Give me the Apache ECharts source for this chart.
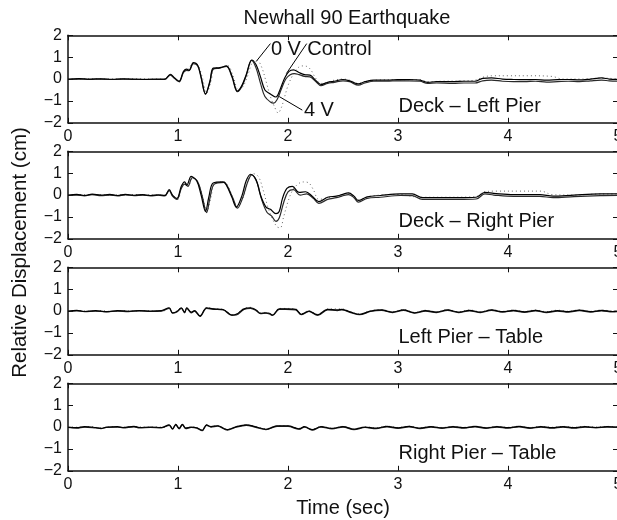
<!DOCTYPE html>
<html>
<head>
<meta charset="utf-8">
<script src="https://cdn.jsdelivr.net/npm/echarts@6/dist/echarts.min.js"></script>
<style>
html, body { margin: 0; padding: 0; background: #fff; }
#chart { width: 617px; height: 520px; }
</style>
</head>
<body>
<div id="chart"></div>
<script>
// readings from the figure: [time (s), displacement (cm)]
const deckLeft0V = [[0,0],[0.1,0.02],[0.2,0],[0.3,0.01],[0.4,-0.01],[0.5,0.01],[0.6,0],[0.7,-0.02],[0.8,0],[0.88,0],[0.93,0.22],[0.97,0.05],[1.01,-0.1],[1.05,0.35],[1.08,0.45],[1.1,0.4],[1.14,0.75],[1.18,0.62],[1.21,0.1],[1.25,-0.68],[1.29,-0.1],[1.32,0.5],[1.38,0.52],[1.44,0.6],[1.49,0.15],[1.54,-0.55],[1.58,-0.3],[1.62,0.2],[1.67,0.87],[1.71,0.65],[1.75,0.1],[1.79,-0.5],[1.84,-0.68],[1.89,-0.82],[1.93,-0.45],[1.97,0.05],[2.01,0.35],[2.05,0.42],[2.1,0.3],[2.15,0.2],[2.2,0.18],[2.25,-0.05],[2.3,-0.25],[2.36,-0.15],[2.42,-0.1],[2.5,-0.02],[2.56,-0.08],[2.64,-0.22],[2.7,-0.12],[2.78,-0.05],[2.9,-0.05],[3,-0.03],[3.1,-0.02],[3.2,-0.05],[3.27,-0.15],[3.35,-0.12],[3.5,-0.12],[3.6,-0.1],[3.7,-0.1],[3.77,0.03],[3.85,0.05],[3.95,0],[4.05,-0.02],[4.15,-0.03],[4.25,-0.02],[4.35,-0.05],[4.45,-0.03],[4.55,-0.02],[4.65,-0.04],[4.75,0],[4.85,0.05],[4.92,0],[5,-0.02]];
const deckLeft4V = [[0,-0.02],[0.1,0],[0.2,-0.02],[0.3,0],[0.4,-0.02],[0.5,0],[0.6,-0.02],[0.7,-0.01],[0.8,-0.02],[0.88,-0.02],[0.93,0.18],[0.97,0.02],[1.01,-0.12],[1.05,0.3],[1.08,0.4],[1.1,0.38],[1.14,0.7],[1.18,0.6],[1.21,0.05],[1.25,-0.7],[1.29,-0.15],[1.32,0.45],[1.38,0.5],[1.44,0.58],[1.49,0.1],[1.54,-0.58],[1.58,-0.35],[1.62,0.15],[1.67,0.85],[1.71,0.5],[1.75,-0.2],[1.79,-0.8],[1.84,-1.05],[1.87,-1.1],[1.9,-0.95],[1.94,-0.45],[1.98,0],[2.02,0.2],[2.06,0.25],[2.1,0.2],[2.15,0.12],[2.2,0.1],[2.25,-0.1],[2.3,-0.3],[2.36,-0.2],[2.42,-0.15],[2.5,-0.08],[2.56,-0.12],[2.64,-0.28],[2.7,-0.18],[2.78,-0.1],[2.9,-0.1],[3,-0.08],[3.1,-0.08],[3.2,-0.1],[3.27,-0.2],[3.35,-0.18],[3.5,-0.2],[3.6,-0.18],[3.7,-0.18],[3.77,-0.08],[3.85,-0.05],[3.95,-0.1],[4.05,-0.12],[4.15,-0.12],[4.25,-0.1],[4.35,-0.14],[4.45,-0.12],[4.55,-0.1],[4.65,-0.12],[4.75,-0.08],[4.85,-0.05],[4.92,-0.08],[5,-0.1]];
const deckLeftCtrl = [[0,0],[0.2,0.01],[0.4,0],[0.6,0.01],[0.8,0],[0.88,0],[0.93,0.2],[0.97,0],[1.01,-0.15],[1.05,0.3],[1.09,0.45],[1.14,0.72],[1.18,0.65],[1.22,0.1],[1.26,-0.65],[1.3,-0.1],[1.33,0.5],[1.39,0.52],[1.45,0.62],[1.5,0.15],[1.55,-0.5],[1.59,-0.35],[1.63,0.1],[1.68,0.8],[1.72,0.85],[1.76,0.55],[1.8,-0.1],[1.84,-0.8],[1.88,-1.3],[1.91,-1.55],[1.94,-1.3],[1.97,-0.8],[2,-0.3],[2.04,0.15],[2.08,0.45],[2.12,0.6],[2.17,0.58],[2.21,0.4],[2.25,0.05],[2.3,-0.2],[2.36,-0.15],[2.42,-0.05],[2.5,0],[2.56,-0.05],[2.64,-0.2],[2.7,-0.12],[2.8,-0.05],[3,-0.03],[3.2,-0.03],[3.27,-0.12],[3.4,-0.1],[3.6,-0.08],[3.7,-0.05],[3.77,0.08],[3.85,0.15],[4,0.15],[4.2,0.15],[4.4,0.12],[4.5,0],[4.7,0],[4.85,0.05],[5,0]];

const deckRight0V = [[0,0],[0.08,0.03],[0.15,-0.02],[0.22,0.04],[0.3,0],[0.38,0.03],[0.45,-0.02],[0.52,0.03],[0.6,-0.01],[0.68,0.02],[0.75,-0.02],[0.82,0.01],[0.88,-0.02],[0.92,0.25],[0.95,0],[0.99,-0.15],[1.03,0.4],[1.06,0.6],[1.08,0.45],[1.12,0.85],[1.17,0.65],[1.21,0],[1.25,-0.75],[1.28,-0.1],[1.32,0.55],[1.41,0.6],[1.44,0.45],[1.49,-0.1],[1.53,-0.55],[1.58,-0.05],[1.62,0.65],[1.66,0.95],[1.71,0.7],[1.75,0],[1.8,-0.55],[1.84,-0.65],[1.89,-0.85],[1.92,-0.75],[1.95,-0.15],[1.99,0.3],[2.04,0.4],[2.1,0.12],[2.16,0.15],[2.22,-0.05],[2.28,-0.3],[2.36,-0.1],[2.44,-0.05],[2.49,0.02],[2.55,0.1],[2.6,-0.05],[2.64,-0.25],[2.72,-0.08],[2.84,-0.02],[3.02,0.05],[3.13,0.05],[3.22,-0.12],[3.38,-0.12],[3.55,-0.12],[3.71,-0.1],[3.79,0.12],[3.87,0.08],[4.05,0.02],[4.29,0.02],[4.41,-0.05],[4.6,0],[4.84,0.05],[5,0.05]];
const deckRight4V = [[0,-0.02],[0.08,0],[0.15,-0.04],[0.22,0.02],[0.3,-0.03],[0.38,0],[0.45,-0.04],[0.52,0.01],[0.6,-0.03],[0.68,0],[0.75,-0.04],[0.82,-0.01],[0.88,-0.04],[0.92,0.2],[0.95,-0.05],[0.99,-0.2],[1.03,0.3],[1.06,0.5],[1.09,0.4],[1.13,0.8],[1.18,0.6],[1.22,-0.05],[1.26,-0.8],[1.29,-0.15],[1.33,0.5],[1.42,0.58],[1.45,0.4],[1.5,-0.15],[1.54,-0.6],[1.59,-0.1],[1.63,0.55],[1.67,0.92],[1.72,0.55],[1.76,-0.2],[1.81,-0.8],[1.85,-0.95],[1.89,-1.2],[1.92,-1.05],[1.96,-0.35],[2,0.15],[2.05,0.25],[2.11,0],[2.17,0.05],[2.23,-0.15],[2.28,-0.38],[2.36,-0.2],[2.44,-0.12],[2.49,-0.05],[2.55,0.02],[2.6,-0.12],[2.64,-0.32],[2.72,-0.15],[2.84,-0.1],[3.02,-0.02],[3.13,-0.03],[3.22,-0.2],[3.38,-0.2],[3.55,-0.2],[3.71,-0.18],[3.79,0.05],[3.87,0],[4.05,-0.06],[4.29,-0.06],[4.41,-0.12],[4.6,-0.07],[4.84,-0.03],[5,-0.02]];
const deckRightCtrl = [[0,0],[0.2,0.02],[0.4,0],[0.6,0.02],[0.8,0],[0.88,0],[0.92,0.22],[0.96,-0.05],[1,-0.2],[1.03,0.35],[1.06,0.55],[1.1,0.5],[1.13,0.8],[1.18,0.6],[1.22,0],[1.26,-0.75],[1.3,-0.1],[1.33,0.5],[1.42,0.6],[1.46,0.35],[1.5,-0.15],[1.54,-0.55],[1.6,0],[1.64,0.7],[1.68,0.98],[1.73,0.85],[1.77,0.3],[1.82,-0.6],[1.86,-1.1],[1.9,-1.45],[1.93,-1.5],[1.96,-1],[2,-0.3],[2.04,0.2],[2.09,0.5],[2.14,0.6],[2.19,0.55],[2.23,0.25],[2.28,-0.2],[2.34,-0.15],[2.44,-0.05],[2.55,0.08],[2.64,-0.22],[2.75,-0.05],[3,0.03],[3.2,-0.1],[3.4,-0.1],[3.7,-0.08],[3.79,0.15],[3.9,0.18],[4.1,0.18],[4.3,0.18],[4.4,0.02],[4.6,0],[4.84,0.05],[5,0.05]];

const leftTable0V = [[0,0],[0.08,0.03],[0.15,-0.02],[0.25,0.02],[0.35,-0.03],[0.45,0.02],[0.55,-0.01],[0.65,0.02],[0.75,0],[0.85,0.02],[0.92,0.15],[0.95,-0.08],[0.99,-0.02],[1.03,0.15],[1.06,-0.05],[1.08,0.15],[1.12,-0.05],[1.15,0.02],[1.2,-0.22],[1.26,0.15],[1.32,0.1],[1.41,0.07],[1.49,-0.18],[1.53,-0.15],[1.6,0.1],[1.66,0.15],[1.71,0.05],[1.75,-0.1],[1.8,-0.08],[1.83,-0.1],[1.86,-0.18],[1.92,0.1],[1.98,0.1],[2.07,0.08],[2.12,-0.15],[2.19,0],[2.27,-0.17],[2.36,0.08],[2.45,0.05],[2.49,0.08],[2.57,-0.05],[2.65,-0.15],[2.75,0],[2.85,0.05],[2.95,-0.05],[3.05,0.05],[3.15,-0.08],[3.25,0.02],[3.35,-0.05],[3.45,0.05],[3.55,-0.05],[3.65,0.03],[3.75,-0.05],[3.85,0.05],[3.95,-0.03],[4.05,0.03],[4.15,-0.04],[4.25,0.03],[4.35,-0.05],[4.45,0.02],[4.55,-0.03],[4.65,0.04],[4.75,-0.03],[4.85,0.03],[4.95,-0.02],[5,0]];
const leftTable4V = [[0,-0.02],[0.08,0.01],[0.15,-0.03],[0.25,0],[0.35,-0.04],[0.45,0],[0.55,-0.03],[0.65,0.01],[0.75,-0.02],[0.85,0],[0.92,0.12],[0.95,-0.1],[0.99,-0.04],[1.03,0.12],[1.06,-0.08],[1.08,0.12],[1.12,-0.08],[1.15,0],[1.2,-0.25],[1.26,0.12],[1.32,0.08],[1.41,0.05],[1.49,-0.2],[1.53,-0.18],[1.6,0.07],[1.66,0.12],[1.71,0.02],[1.75,-0.12],[1.8,-0.1],[1.83,-0.13],[1.86,-0.2],[1.92,0.08],[1.98,0.08],[2.07,0.05],[2.12,-0.17],[2.19,-0.02],[2.27,-0.2],[2.36,0.05],[2.45,0.02],[2.49,0.05],[2.57,-0.07],[2.65,-0.17],[2.75,-0.02],[2.85,0.03],[2.95,-0.07],[3.05,0.03],[3.15,-0.1],[3.25,0],[3.35,-0.07],[3.45,0.03],[3.55,-0.07],[3.65,0.01],[3.75,-0.07],[3.85,0.03],[3.95,-0.05],[4.05,0.01],[4.15,-0.06],[4.25,0.01],[4.35,-0.07],[4.45,0],[4.55,-0.05],[4.65,0.02],[4.75,-0.05],[4.85,0.01],[4.95,-0.04],[5,-0.02]];
const leftTableCtrl = [[0,0.01],[0.1,0.02],[0.2,-0.01],[0.3,0.02],[0.4,-0.02],[0.5,0.02],[0.6,0],[0.7,0.02],[0.8,0],[0.88,0.02],[0.92,0.16],[0.95,-0.06],[0.99,0],[1.03,0.16],[1.06,-0.04],[1.08,0.16],[1.12,-0.04],[1.15,0.03],[1.2,-0.2],[1.26,0.16],[1.32,0.12],[1.41,0.08],[1.49,-0.16],[1.53,-0.13],[1.6,0.12],[1.66,0.17],[1.71,0.06],[1.75,-0.08],[1.8,-0.06],[1.86,-0.2],[1.92,0.12],[1.98,0.12],[2.07,0.1],[2.12,-0.13],[2.19,0.02],[2.27,-0.15],[2.36,0.1],[2.49,0.1],[2.57,-0.03],[2.65,-0.13],[2.75,0.02],[2.85,0.07],[2.95,-0.03],[3.05,0.07],[3.15,-0.06],[3.25,0.04],[3.35,-0.03],[3.45,0.07],[3.55,-0.03],[3.65,0.05],[3.75,-0.03],[3.85,0.07],[3.95,-0.01],[4.05,0.05],[4.15,-0.02],[4.25,0.05],[4.35,-0.03],[4.45,0.04],[4.55,-0.01],[4.65,0.06],[4.75,-0.01],[4.85,0.05],[4.95,0],[5,0.02]];

const rightTable0V = [[0,0],[0.08,-0.03],[0.15,0.02],[0.25,-0.02],[0.3,-0.06],[0.35,0],[0.45,0.02],[0.5,-0.02],[0.6,0.03],[0.65,-0.02],[0.75,0],[0.85,-0.02],[0.92,0.1],[0.95,-0.08],[0.98,0.12],[1.01,-0.06],[1.04,0.12],[1.07,-0.05],[1.12,0],[1.17,-0.03],[1.22,-0.15],[1.26,0.1],[1.3,0.02],[1.36,0.06],[1.45,-0.12],[1.52,0],[1.62,0.1],[1.7,0.02],[1.8,-0.1],[1.9,0.05],[2,0.05],[2.1,-0.08],[2.15,0.02],[2.22,-0.12],[2.3,0.02],[2.4,-0.06],[2.5,0.02],[2.6,-0.1],[2.7,0],[2.8,-0.05],[2.9,0.03],[3,-0.04],[3.1,0.03],[3.2,-0.05],[3.3,0.02],[3.4,-0.04],[3.5,0.02],[3.6,-0.03],[3.7,0.03],[3.8,-0.04],[3.9,0.02],[4,-0.03],[4.1,0.03],[4.2,-0.04],[4.3,0.02],[4.4,-0.03],[4.5,0.02],[4.6,-0.03],[4.7,0.02],[4.8,-0.02],[4.9,0.02],[5,0]];
const rightTable4V = [[0,-0.02],[0.08,-0.05],[0.15,0],[0.25,-0.04],[0.3,-0.07],[0.35,-0.02],[0.45,0],[0.5,-0.04],[0.6,0.01],[0.65,-0.04],[0.75,-0.02],[0.85,-0.04],[0.92,0.08],[0.95,-0.1],[0.98,0.1],[1.01,-0.08],[1.04,0.1],[1.07,-0.07],[1.12,-0.02],[1.17,-0.05],[1.22,-0.17],[1.26,0.08],[1.3,0],[1.36,0.04],[1.45,-0.14],[1.52,-0.02],[1.62,0.08],[1.7,0],[1.8,-0.12],[1.9,0.03],[2,0.03],[2.1,-0.1],[2.15,0],[2.22,-0.14],[2.3,0],[2.4,-0.08],[2.5,0],[2.6,-0.12],[2.7,-0.02],[2.8,-0.07],[2.9,0.01],[3,-0.06],[3.1,0.01],[3.2,-0.07],[3.3,0],[3.4,-0.06],[3.5,0],[3.6,-0.05],[3.7,0.01],[3.8,-0.06],[3.9,0],[4,-0.05],[4.1,0.01],[4.2,-0.06],[4.3,0],[4.4,-0.05],[4.5,0],[4.6,-0.05],[4.7,0],[4.8,-0.04],[4.9,0],[5,-0.02]];
const rightTableCtrl = [[0,0.01],[0.1,-0.01],[0.2,0.02],[0.3,-0.04],[0.4,0.02],[0.5,-0.01],[0.6,0.03],[0.7,0],[0.8,0.01],[0.88,-0.01],[0.92,0.11],[0.95,-0.06],[0.98,0.13],[1.01,-0.05],[1.04,0.13],[1.07,-0.04],[1.12,0.01],[1.17,-0.02],[1.22,-0.13],[1.26,0.11],[1.3,0.03],[1.36,0.07],[1.45,-0.1],[1.52,0.01],[1.62,0.11],[1.7,0.03],[1.8,-0.08],[1.9,0.06],[2,0.06],[2.1,-0.06],[2.15,0.03],[2.22,-0.1],[2.3,0.03],[2.4,-0.04],[2.5,0.03],[2.6,-0.08],[2.7,0.01],[2.8,-0.03],[2.9,0.04],[3,-0.02],[3.1,0.04],[3.2,-0.03],[3.3,0.03],[3.4,-0.02],[3.5,0.03],[3.6,-0.01],[3.7,0.04],[3.8,-0.02],[3.9,0.03],[4,-0.01],[4.1,0.04],[4.2,-0.02],[4.3,0.03],[4.4,-0.01],[4.5,0.03],[4.6,-0.01],[4.7,0.03],[4.8,0],[4.9,0.03],[5,0.01]];

const panelNames = ['Deck \u2013 Left Pier', 'Deck \u2013 Right Pier', 'Left Pier \u2013 Table', 'Right Pier \u2013 Table'];
const panelData = [
    [deckLeft0V, deckLeft4V, deckLeftCtrl],
    [deckRight0V, deckRight4V, deckRightCtrl],
    [leftTable0V, leftTable4V, leftTableCtrl],
    [rightTable0V, rightTable4V, rightTableCtrl]
];
// where each panel caption sits, in data units
const captionAt = [[3.0, -1.25], [3.0, -1.2], [3.0, -1.2], [3.0, -1.2]];

// curve labels of the top panel: text anchor, leader line from -> to
const curveNotes = [
    { text: '0 V', at: [1.84, 1.35], from: [1.71, 0.8], to: [1.84, 1.62] },
    { text: 'Control', at: [2.17, 1.35], from: [1.985, 0.25], to: [2.17, 1.62] },
    { text: '4 V', at: [2.14, -1.45], from: [1.92, -0.8], to: [2.13, -1.42] }
];

const FONT = '"Liberation Sans", Arial, Helvetica, sans-serif';
const INK = '#111';
const panelTop = 35.3, panelStep = 116, panelHeight = 87.5;

const chart = echarts.init(document.getElementById('chart'), null, { renderer: 'canvas' });

let grid = [], xAxis = [], yAxis = [], series = [];
const lineStyles = [
    { color: '#000', width: 1.2 },
    { color: '#2a2a2a', width: 1.2 },
    { color: '#666', width: 1, type: [1, 3] }
];
const textStyle = { color: INK, fontSize: 20, fontFamily: FONT, opacity: 1 };

panelData.forEach((sets, i) => {
    grid.push({
        left: 68, right: -1, top: panelTop + i * panelStep, height: panelHeight,
        containLabel: false, outerBoundsMode: 'none'
    });
    const axisLine = { show: true, onZero: false, lineStyle: { color: INK, width: 1.5 } };
    const tick = { show: true, inside: true, length: 5, lineStyle: { color: INK, width: 1 } };
    xAxis.push({
        gridIndex: i, type: 'value', min: 0, max: 5, interval: 1,
        axisLine, axisTick: tick, splitLine: { show: false },
        axisLabel: { color: INK, fontSize: 16, fontFamily: FONT, margin: 6 },
        name: i == 3 ? 'Time (sec)' : '',
        nameLocation: 'middle', nameGap: 28,
        nameTextStyle: { color: INK, fontSize: 20, fontFamily: FONT }
    });
    xAxis.push({
        gridIndex: i, type: 'value', min: 0, max: 5, interval: 1, position: 'top',
        axisLine, axisTick: tick, splitLine: { show: false }, axisLabel: { show: false }
    });
    yAxis.push({
        gridIndex: i, type: 'value', min: -2, max: 2, interval: 1,
        axisLine, axisTick: tick, splitLine: { show: false },
        axisLabel: {
            color: INK, fontSize: 16, fontFamily: FONT, margin: 6,
            formatter: v => String(v).replace('-', '\u2212')
        }
    });
    yAxis.push({
        gridIndex: i, type: 'value', min: -2, max: 2, interval: 1, position: 'right',
        axisLine, axisTick: tick, splitLine: { show: false }, axisLabel: { show: false }
    });

    // control first so the solid traces sit on top
    [2, 1, 0].forEach(k => {
        series.push({
            type: 'line', xAxisIndex: 2 * i, yAxisIndex: 2 * i,
            data: sets[k], showSymbol: false, smooth: 0.35,
            lineStyle: lineStyles[k], silent: true
        });
    });

    series.push({
        type: 'scatter', xAxisIndex: 2 * i, yAxisIndex: 2 * i,
        data: [captionAt[i]], symbolSize: 1, itemStyle: { color: 'transparent', opacity: 1 },
        silent: true,
        label: { show: true, position: 'right', distance: 0, formatter: panelNames[i], ...textStyle }
    });
});

// curve labels and leader lines on the top panel
series.push({
    type: 'scatter', xAxisIndex: 0, yAxisIndex: 0, silent: true,
    data: curveNotes.map(n => ({ value: n.at, name: n.text })),
    symbolSize: 1, itemStyle: { color: 'transparent', opacity: 1 },
    label: { show: true, position: 'right', distance: 0, formatter: '{b}', ...textStyle }
});
series.push({
    type: 'lines', coordinateSystem: 'cartesian2d', xAxisIndex: 0, yAxisIndex: 0, silent: true,
    data: curveNotes.map(n => ({ coords: [n.from, n.to] })),
    lineStyle: { color: '#000', width: 1, opacity: 1 }
});

chart.setOption({
    animation: false,
    backgroundColor: '#fff',
    title: {
        text: 'Newhall 90 Earthquake', left: 342, top: 3, textAlign: 'center',
        textStyle: { color: INK, fontSize: 20, fontWeight: 'normal', fontFamily: FONT }
    },
    graphic: [{
        type: 'text', x: 20.5, y: 252.5, rotation: Math.PI / 2,
        style: {
            text: 'Relative Displacement (cm)', fill: INK, fontSize: 20.5, fontFamily: FONT,
            align: 'center', verticalAlign: 'middle'
        }
    }],
    grid, xAxis, yAxis, series
});
</script>
</body>
</html>
